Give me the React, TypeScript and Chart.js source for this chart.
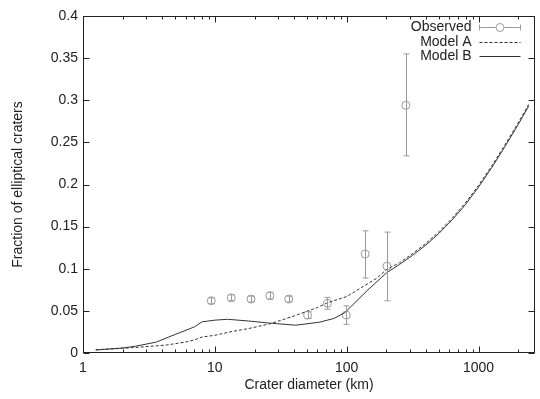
import React, { useEffect, useRef } from "react";
import { Chart, registerables } from "chart.js";

Chart.register(...registerables);

// Observed data (crater diameter km, fraction, error bars)
const obsX = [9.4, 13.3, 18.8, 26.1, 36.3, 50.5, 71.4, 99.3, 138, 202, 281];
const obsY = [0.062, 0.0655, 0.064, 0.068, 0.064, 0.045, 0.059, 0.045, 0.1175, 0.103, 0.294];
const obsLow = [0.0585, 0.062, 0.0605, 0.064, 0.0605, 0.041, 0.052, 0.034, 0.089, 0.062, 0.234];
const obsHigh = [0.0655, 0.069, 0.0675, 0.072, 0.0675, 0.049, 0.066, 0.056, 0.145, 0.1435, 0.355];

// Model A (dashed)
const modelAX = [1.25, 2, 3, 4.3, 6, 7, 8, 10, 13, 18, 26, 40, 60, 70, 100, 170, 200, 251, 316, 398, 501, 631, 794, 1000, 1259, 1585, 1995, 2400];
const modelAY = [0.004, 0.0055, 0.0075, 0.0095, 0.013, 0.0155, 0.019, 0.021, 0.025, 0.029, 0.0345, 0.044, 0.054, 0.059, 0.067, 0.089, 0.099, 0.107, 0.118, 0.13, 0.144, 0.16, 0.178, 0.199, 0.222, 0.247, 0.273, 0.295];

// Model B (solid)
const modelBX = [1.25, 2, 2.5, 3.6, 5, 7, 8, 10, 12.5, 18, 26, 41, 62, 80, 97, 145, 200, 251, 316, 398, 501, 631, 794, 1000, 1259, 1585, 1995, 2400];
const modelBY = [0.0035, 0.006, 0.008, 0.013, 0.022, 0.031, 0.037, 0.039, 0.04, 0.038, 0.0355, 0.033, 0.0365, 0.041, 0.048, 0.075, 0.095, 0.105, 0.116, 0.128, 0.142, 0.158, 0.176, 0.197, 0.22, 0.245, 0.271, 0.293];

const xTickValues = [1, 10, 100, 1000];
const yTickValues = [0, 0.05, 0.1, 0.15, 0.2, 0.25, 0.3, 0.35, 0.4];
const legendLabels = ["Observed", "Model A", "Model B"];

const FONT = "'Liberation Sans', Arial, Helvetica, sans-serif";
const FS = 14;
const GRAY = "#9a9a9a";
const DARK = "#333333";

const overlayPlugin = {
  id: "gnuplotOverlay",
  afterDatasetsDraw(chart: any) {
    const { ctx, chartArea, scales } = chart;
    const xs = scales.x;
    const ys = scales.y;
    ctx.save();
    // error bars
    ctx.strokeStyle = GRAY;
    ctx.lineWidth = 1;
    for (let i = 0; i < obsX.length; i++) {
      const px = Math.round(xs.getPixelForValue(obsX[i])) + 0.5;
      const lo = ys.getPixelForValue(obsLow[i]);
      const hi = ys.getPixelForValue(obsHigh[i]);
      ctx.beginPath();
      ctx.moveTo(px, lo);
      ctx.lineTo(px, hi);
      ctx.moveTo(px - 3, lo);
      ctx.lineTo(px + 3, lo);
      ctx.moveTo(px - 3, hi);
      ctx.lineTo(px + 3, hi);
      ctx.stroke();
    }
    // frame
    ctx.strokeStyle = "#222";
    ctx.lineWidth = 1;
    const L = Math.round(chartArea.left) + 0.5;
    const R = Math.round(chartArea.right) - 0.5;
    const T = Math.round(chartArea.top) + 0.5;
    const B = Math.round(chartArea.bottom) - 0.5;
    ctx.strokeRect(L, T, R - L, B - T);
    ctx.beginPath();
    // y ticks (left & right)
    for (const v of yTickValues) {
      const py = Math.round(ys.getPixelForValue(v)) + 0.5;
      ctx.moveTo(L, py);
      ctx.lineTo(L + 6, py);
      ctx.moveTo(R, py);
      ctx.lineTo(R - 6, py);
    }
    // x ticks (bottom & top), major at decades, minor in between
    for (let d = 1; d <= 1000; d *= 10) {
      for (let m = 1; m <= 9; m++) {
        const v = d * m;
        if (v > xs.max) break;
        const px = Math.round(xs.getPixelForValue(v)) + 0.5;
        const len = m === 1 ? 6 : 3;
        ctx.moveTo(px, B);
        ctx.lineTo(px, B - len);
        ctx.moveTo(px, T);
        ctx.lineTo(px, T + len);
      }
    }
    ctx.stroke();

    // legend
    const textRight = R - 63;
    const sx0 = R - 55;
    const sx1 = R - 14;
    const rows = [27, 42, 56];
    ctx.font = `${FS}px ${FONT}`;
    ctx.textAlign = "right";
    ctx.textBaseline = "middle";
    ctx.fillStyle = "#222";
    legendLabels.forEach((t, i) => ctx.fillText(t, textRight, rows[i]));
    // Observed sample
    let y = rows[0] + 0.5;
    ctx.strokeStyle = GRAY;
    ctx.beginPath();
    ctx.moveTo(sx0, y);
    ctx.lineTo(sx1, y);
    ctx.moveTo(sx0, y - 3);
    ctx.lineTo(sx0, y + 3);
    ctx.moveTo(sx1, y - 3);
    ctx.lineTo(sx1, y + 3);
    ctx.stroke();
    ctx.beginPath();
    ctx.fillStyle = "#fff";
    ctx.arc((sx0 + sx1) / 2, y, 4, 0, Math.PI * 2);
    ctx.fill();
    ctx.stroke();
    // Model A sample
    y = rows[1] + 0.5;
    ctx.strokeStyle = DARK;
    ctx.setLineDash([3, 2]);
    ctx.beginPath();
    ctx.moveTo(sx0, y);
    ctx.lineTo(sx1, y);
    ctx.stroke();
    ctx.setLineDash([]);
    // Model B sample
    y = rows[2] + 0.5;
    ctx.beginPath();
    ctx.moveTo(sx0, y);
    ctx.lineTo(sx1, y);
    ctx.stroke();
    ctx.restore();
  },
};

export default function App() {
  const ref = useRef<HTMLCanvasElement | null>(null);
  useEffect(() => {
    document.body.style.margin = "0";
    const canvas = ref.current;
    if (!canvas) return;
    const chart = new Chart(canvas, {
      type: "scatter",
      data: {
        datasets: [
          {
            label: "Model A",
            data: modelAX.map((x, i) => ({ x, y: modelAY[i] })),
            showLine: true,
            borderColor: DARK,
            borderWidth: 1,
            borderDash: [3, 2],
            pointRadius: 0,
            tension: 0,
          },
          {
            label: "Model B",
            data: modelBX.map((x, i) => ({ x, y: modelBY[i] })),
            showLine: true,
            borderColor: DARK,
            borderWidth: 1,
            pointRadius: 0,
            tension: 0,
          },
          {
            label: "Observed",
            data: obsX.map((x, i) => ({ x, y: obsY[i] })),
            showLine: false,
            pointStyle: "circle",
            pointRadius: 4,
            borderColor: GRAY,
            borderWidth: 1,
            backgroundColor: "rgba(0,0,0,0)",
          },
        ],
      },
      options: {
        animation: false,
        responsive: false,
        maintainAspectRatio: false,
        layout: { padding: { top: 16, right: 1, left: 0, bottom: 0 } },
        plugins: { legend: { display: false }, tooltip: { enabled: false } },
        scales: {
          x: {
            type: "logarithmic",
            min: 1,
            max: 2680,
            afterBuildTicks: (s: any) => {
              s.ticks = xTickValues.map((v) => ({ value: v }));
            },
            afterFit: (s: any) => {
              s.height = 46;
            },
            grid: { display: false, drawTicks: false },
            border: { display: false },
            ticks: {
              autoSkip: false,
              maxRotation: 0,
              padding: 7,
              color: "#222",
              font: { family: FONT, size: FS },
              callback: (v: any) => String(v),
            },
            title: {
              display: true,
              text: "Crater diameter (km)",
              color: "#222",
              font: { family: FONT, size: FS },
              padding: { top: 0, bottom: 5 },
            },
          },
          y: {
            type: "linear",
            min: 0,
            max: 0.4,
            afterBuildTicks: (s: any) => {
              s.ticks = yTickValues.map((v) => ({ value: v }));
            },
            afterFit: (s: any) => {
              s.width = 83;
            },
            grid: { display: false, drawTicks: false },
            border: { display: false },
            ticks: {
              padding: 5,
              color: "#222",
              font: { family: FONT, size: FS },
              callback: (v: any) => String(Math.round(Number(v) * 100) / 100),
            },
            title: {
              display: true,
              text: "Fraction of elliptical craters",
              color: "#222",
              font: { family: FONT, size: FS },
              padding: { top: 10, bottom: 0 },
            },
          },
        },
      },
      plugins: [overlayPlugin],
    });
    return () => chart.destroy();
  }, []);
  return (
    <div style={{ width: 540, height: 399 }}>
      <canvas ref={ref} width={540} height={399} />
    </div>
  );
}
